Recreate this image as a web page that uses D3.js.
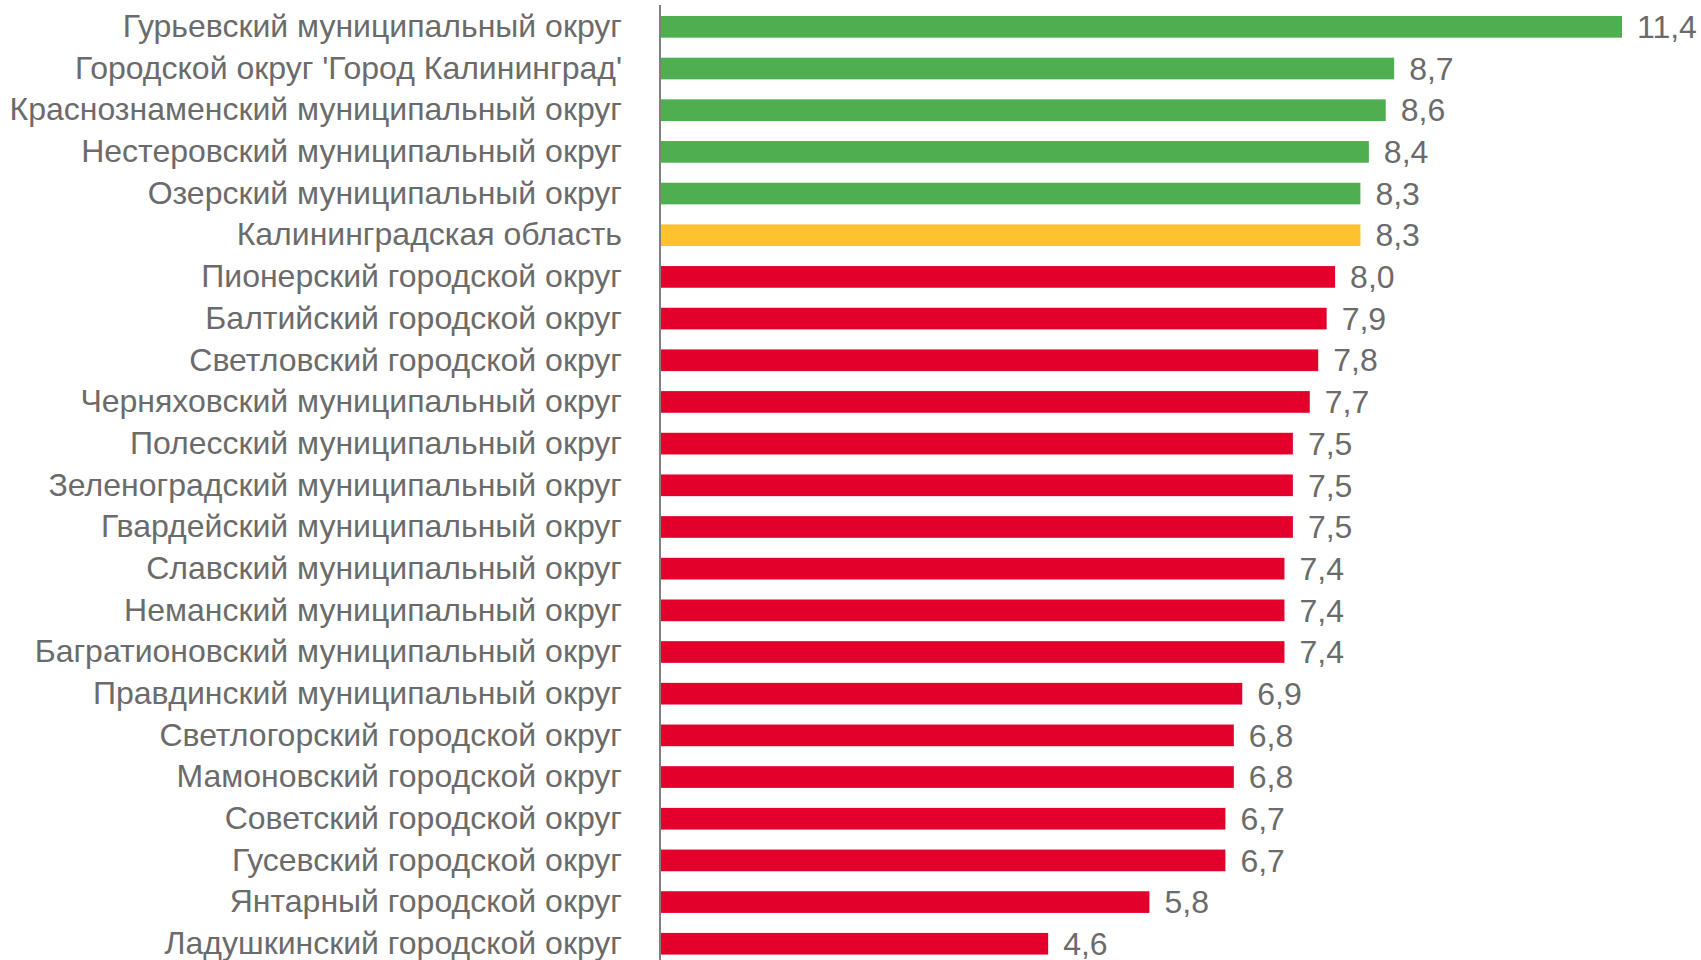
<!DOCTYPE html>
<html>
<head>
<meta charset="utf-8">
<script src="https://cdn.jsdelivr.net/npm/d3@7"></script>
<style>
  html, body { margin: 0; padding: 0; background: #ffffff; }
  svg { display: block; }
</style>
</head>
<body>
<svg id="chart" width="1701" height="960"></svg>
<script>
const categories = [
  "Гурьевский муниципальный округ",
  "Городской округ 'Город Калининград'",
  "Краснознаменский муниципальный округ",
  "Нестеровский муниципальный округ",
  "Озерский муниципальный округ",
  "Калининградская область",
  "Пионерский городской округ",
  "Балтийский городской округ",
  "Светловский городской округ",
  "Черняховский муниципальный округ",
  "Полесский муниципальный округ",
  "Зеленоградский муниципальный округ",
  "Гвардейский муниципальный округ",
  "Славский муниципальный округ",
  "Неманский муниципальный округ",
  "Багратионовский муниципальный округ",
  "Правдинский муниципальный округ",
  "Светлогорский городской округ",
  "Мамоновский городской округ",
  "Советский городской округ",
  "Гусевский городской округ",
  "Янтарный городской округ",
  "Ладушкинский городской округ"
];
const values = [11.4, 8.7, 8.6, 8.4, 8.3, 8.3, 8.0, 7.9, 7.8, 7.7, 7.5, 7.5, 7.5, 7.4, 7.4, 7.4, 6.9, 6.8, 6.8, 6.7, 6.7, 5.8, 4.6];
const groups = ["above", "above", "above", "above", "above", "region",
  "below", "below", "below", "below", "below", "below", "below", "below", "below", "below",
  "below", "below", "below", "below", "below", "below", "below"];
const groupColors = { above: "#4EAF51", region: "#FFC22F", below: "#E3002B" };

const data = categories.map((c, i) => ({ name: c, value: values[i], group: groups[i] }));

const svg = d3.select("#chart");
const axisX = 660;
const x = d3.scaleLinear().domain([0, d3.max(values)]).range([axisX, 1622]);
const y = d3.scaleBand().domain(categories).range([6, 964.6]).paddingInner(0.48).paddingOuter(0.24);

const textColor = "#6B6B6B";
const fontFamily = "'Liberation Sans', Arial, sans-serif";
const fontSize = 32;

svg.selectAll("rect.bar")
  .data(data)
  .join("rect")
  .attr("class", "bar")
  .attr("x", x(0))
  .attr("y", d => y(d.name))
  .attr("width", d => x(d.value) - x(0))
  .attr("height", y.bandwidth())
  .attr("fill", d => groupColors[d.group]);

// category axis (left)
const yAxis = d3.axisLeft(y).tickSize(0).tickPadding(38);
const gy = svg.append("g").attr("transform", `translate(${axisX},0)`).call(yAxis);
gy.select(".domain").remove();
gy.selectAll("text")
  .attr("fill", textColor)
  .style("font-family", fontFamily)
  .style("font-size", fontSize + "px");

svg.append("line")
  .attr("x1", axisX).attr("x2", axisX)
  .attr("y1", 5).attr("y2", 960)
  .attr("stroke", "#808080").attr("stroke-width", 2);

// value labels
const fmt = v => d3.format(".1f")(v).replace(".", ",");
svg.selectAll("text.val")
  .data(data)
  .join("text")
  .attr("class", "val")
  .attr("x", d => x(d.value) + 15)
  .attr("y", d => y(d.name) + y.bandwidth() / 2)
  .attr("dy", "0.35em")
  .attr("fill", textColor)
  .style("font-family", fontFamily)
  .style("font-size", fontSize + "px")
  .text(d => fmt(d.value));
</script>
</body>
</html>
